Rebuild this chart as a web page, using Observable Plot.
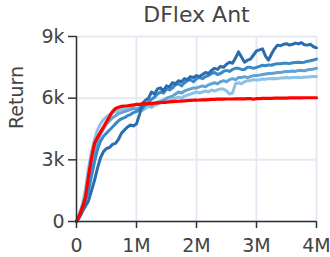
<!DOCTYPE html>
<html><head><meta charset="utf-8">
<script src="https://cdn.jsdelivr.net/npm/d3@7"></script>
<script src="https://cdn.jsdelivr.net/npm/@observablehq/plot@0.6"></script>
<style>body{margin:0;background:#fff;}</style>
</head><body><div id="chart"></div>
<script>
// environment steps (millions)
const steps = [0,0.05,0.1,0.15,0.2,0.25,0.3,0.35,0.4,0.45,0.5,0.55,0.6,0.65,0.7,0.75,0.8,0.85,0.9,0.95,
  1.0,1.05,1.1,1.15,1.2,1.25,1.3,1.35,1.4,1.45,1.5,1.55,1.6,1.65,1.7,1.75,1.8,1.85,1.9,1.95,
  2.0,2.05,2.1,2.15,2.2,2.25,2.3,2.35,2.4,2.45,2.5,2.55,2.6,2.65,2.7,2.75,2.8,2.85,2.9,2.95,
  3.0,3.05,3.1,3.15,3.2,3.25,3.3,3.35,3.4,3.45,3.5,3.55,3.6,3.65,3.7,3.75,3.8,3.85,3.9,3.95,4.0];
// returns (thousands)
const redReturn = [0,0.3,0.7,1.2,2.2,3.1,3.8,4.1,4.35,4.6,4.85,5.1,5.35,5.5,5.56,5.6,5.62,5.63,5.65,5.67,
  5.7,5.7,5.72,5.72,5.74,5.75,5.76,5.77,5.78,5.8,5.8,5.82,5.83,5.84,5.85,5.86,5.87,5.88,5.89,5.9,
  5.9,5.91,5.92,5.92,5.93,5.94,5.94,5.95,5.95,5.95,5.96,5.96,5.96,5.97,5.97,5.97,5.97,5.98,5.98,5.95,
  5.98,5.98,5.99,5.99,5.99,5.99,6.0,6.0,6.0,6.0,6.0,6.01,6.01,6.01,6.01,6.01,6.02,6.02,6.02,6.02,6.02];
const blueDark = [0,0.2,0.5,0.75,1.0,1.5,2.0,2.6,3.1,3.4,3.55,3.6,3.75,3.8,4.0,4.3,4.45,4.6,4.7,4.65,
  4.75,5.2,5.75,5.9,6.0,6.3,6.2,6.45,6.5,6.35,6.6,6.55,6.75,6.7,6.85,6.8,6.95,6.9,7.05,7.0,
  7.1,7.05,7.15,7.25,7.2,7.35,7.45,7.4,7.55,7.5,7.65,7.75,7.7,7.95,8.25,8.0,7.75,7.85,7.9,8.1,
  8.3,8.35,8.4,8.05,7.85,8.15,8.4,8.58,8.55,8.62,8.65,8.58,8.62,8.68,8.64,8.7,8.6,8.58,8.62,8.5,8.45];
const blueMid = [0,0.3,0.6,1.0,1.5,2.2,2.9,3.5,3.9,4.15,4.3,4.45,4.6,4.75,4.9,5.0,5.05,5.15,5.2,5.3,
  5.35,5.45,5.5,5.7,5.8,5.95,6.05,6.2,6.3,6.25,6.45,6.4,6.5,6.65,6.7,6.6,6.75,6.85,6.9,6.8,
  6.95,7.0,6.95,7.05,7.1,7.2,7.25,7.15,7.2,7.3,7.35,7.3,7.4,7.45,7.45,7.4,7.4,7.5,7.5,7.45,
  7.5,7.55,7.6,7.58,7.62,7.6,7.65,7.68,7.67,7.7,7.7,7.68,7.72,7.74,7.75,7.73,7.75,7.8,7.82,7.86,7.9];
const blueLight = [0,0.35,0.7,1.2,1.8,2.6,3.4,3.9,4.25,4.5,4.75,4.9,5.05,5.15,5.25,5.3,5.35,5.4,5.45,5.5,
  5.45,5.55,5.6,5.65,5.7,5.65,5.75,5.8,5.85,5.9,6.0,6.05,6.1,6.2,6.3,6.25,6.35,6.4,6.45,6.5,
  6.5,6.55,6.6,6.55,6.65,6.7,6.75,6.7,6.8,6.85,6.8,6.9,6.95,6.9,7.0,7.0,7.05,7.0,7.05,7.1,
  7.1,7.12,7.15,7.18,7.2,7.2,7.22,7.25,7.25,7.28,7.3,7.3,7.32,7.3,7.35,7.35,7.33,7.38,7.4,7.42,7.45];
const bluePale = [0,0.4,0.85,1.6,2.6,3.4,4.0,4.45,4.75,4.95,5.1,5.2,5.3,5.35,5.4,5.45,5.5,5.55,5.6,5.55,
  5.5,5.45,5.4,5.5,5.6,5.55,5.65,5.7,5.8,5.85,5.9,5.85,5.95,6.0,6.05,6.0,6.1,6.15,6.2,6.25,
  6.3,6.25,6.3,6.35,6.3,6.4,6.35,6.4,6.45,6.45,6.35,6.2,6.25,6.7,6.75,6.7,6.8,6.85,6.85,6.9,
  6.88,6.9,6.93,6.92,6.95,6.95,6.96,6.95,6.98,6.98,7.0,6.98,7.0,7.0,7.02,7.0,7.02,7.03,7.04,7.05,7.05];

const xTicks = [0,1,2,3,4];
const xTickLabels = ["0","1M","2M","3M","4M"];
const yTicks = [0,3,6,9];
const yTickLabels = ["0","3k","6k","9k"];
const titleText = "DFlex Ant";
const yLabel = "Return";

const toRows = vals => vals.map((v,i) => ({x: steps[i], y: v}));
const lineOpts = c => ({x:"x", y:"y", stroke:c, strokeWidth:3, strokeLinejoin:"round", strokeLinecap:"round"});

const chart = Plot.plot({
  width: 330, height: 257,
  marginTop: 36, marginBottom: 36, marginLeft: 76, marginRight: 14,
  style: {fontFamily: "DejaVu Sans", fontSize: "19px", color: "#444", background: "white"},
  x: {domain: [0, 4]},
  y: {domain: [0, 9]},
  marks: [
    Plot.ruleX(xTicks, {stroke: "#e4eaf4", strokeWidth: 2}),
    Plot.ruleY(yTicks, {stroke: "#e4eaf4", strokeWidth: 2}),
    Plot.line(toRows(bluePale), lineOpts("#8ec1e2")),
    Plot.line(toRows(blueLight), lineOpts("#5fa2d3")),
    Plot.line(toRows(blueMid), lineOpts("#3a88c6")),
    Plot.line(toRows(blueDark), lineOpts("#2a6cb0")),
    Plot.line(toRows(redReturn), {...lineOpts("#ff0000"), strokeWidth: 3.2}),
    Plot.ruleX([0], {stroke: "#333", strokeWidth: 1.5}),
    Plot.ruleY([0], {stroke: "#333", strokeWidth: 1.5}),
    Plot.axisX(xTicks, {tickFormat: d => xTickLabels[xTicks.indexOf(d)], tickSize: 7, tickPadding: 10, stroke: "#333", strokeWidth: 1.5, fill: "#444", label: null, fontSize: 19}),
    Plot.axisY(yTicks, {tickFormat: d => yTickLabels[yTicks.indexOf(d)], tickSize: 8, tickPadding: 4, stroke: "#333", strokeWidth: 1.5, fill: "#444", label: null, fontSize: 19}),
    Plot.text([titleText], {frameAnchor: "top", lineAnchor: "middle", dy: -22, fontSize: 22, fill: "#444"}),
    Plot.text([yLabel], {frameAnchor: "left", rotate: -90, dx: -60, fontSize: 19, fill: "#444"})
  ]
});
document.getElementById("chart").appendChild(chart);
</script>
</body></html>
